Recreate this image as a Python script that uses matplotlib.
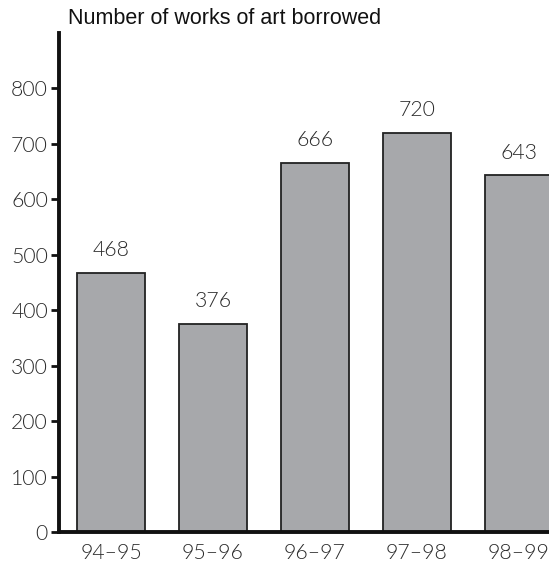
import matplotlib
matplotlib.use("Agg")
import matplotlib.pyplot as plt

# Works of art borrowed per financial year
seasons = ["94–95", "95–96", "96–97", "97–98", "98–99"]
borrowed = [468, 376, 666, 720, 643]
y_ticks = [0, 100, 200, 300, 400, 500, 600, 700, 800]

W, H = 549, 567
fig = plt.figure(figsize=(W / 100, H / 100), dpi=100)
ax = fig.add_axes([59 / W, (H - 532) / H, 1 - 59 / W, (532 - 33) / H])

label_font = dict(family="Lato", fontweight=300, color="#2a2a2a", fontsize=15.3)

xs = list(range(len(seasons)))
bars = ax.bar(xs, borrowed, width=0.66, color="#a7a8ab",
              edgecolor="#222222", linewidth=1.3, zorder=2)

for x, v in zip(xs, borrowed):
    ax.annotate(f"{v}", (x, v), xytext=(0, 9), textcoords="offset points",
                ha="center", va="bottom", **label_font)

ax.set_xlim(-0.51, 4.294)
ax.set_ylim(0, 900)

ax.set_yticks(y_ticks)
ax.set_yticklabels([str(t) for t in y_ticks], **label_font)
ax.set_xticks(xs)
ax.set_xticklabels(seasons, **label_font)

ax.tick_params(axis="y", length=6, width=2, color="#111111", pad=2)
ax.tick_params(axis="x", length=0, pad=8)

for side in ("top", "right"):
    ax.spines[side].set_visible(False)
for side in ("left", "bottom"):
    ax.spines[side].set_linewidth(2.8)
    ax.spines[side].set_color("#111111")
    ax.spines[side].set_zorder(3)

fig.text(68 / W, 1 - 18 / H, "Number of works of art borrowed",
         family="Liberation Sans", fontsize=15.5, color="#111111",
         ha="left", va="center")

fig.savefig("out.png", dpi=100)
